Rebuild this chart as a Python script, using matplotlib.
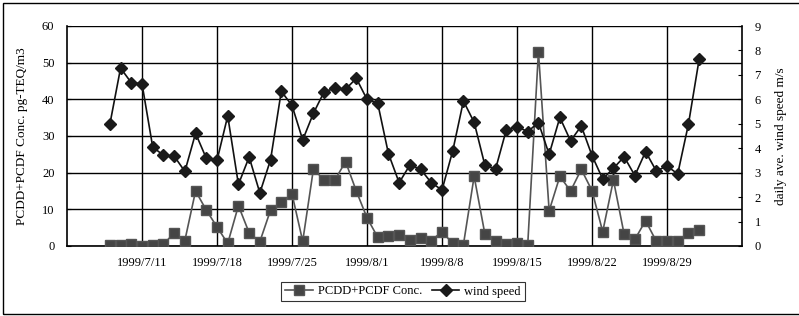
import matplotlib
matplotlib.use("Agg")
import matplotlib.pyplot as plt
from matplotlib.patches import Rectangle
import pandas as pd

dates = pd.date_range("1999-07-08", "1999-09-01", freq="D")
conc = [0.3, 0.3, 0.5, 0.1, 0.3, 0.5, 3.5, 1.5, 15, 9.8, 5.2, 0.7, 11, 3.6, 1.2, 9.8,
        12, 14.2, 1.3, 21, 18, 18, 23, 15, 7.7, 2.4, 2.7, 2.9, 1.6, 2.2, 1.5, 3.9,
        0.7, 0.4, 19, 3.3, 1.3, 0.5, 0.7, 0.3, 53, 9.6, 19, 15, 20.9, 15.1, 3.9, 18,
        3.2, 1.8, 6.9, 1.3, 1.3, 1.3, 3.5, 4.4]
wind = [4.98, 7.28, 6.68, 6.64, 4.05, 3.71, 3.68, 3.05, 4.61, 3.59, 3.50, 5.32, 2.52,
        3.64, 2.17, 3.53, 6.33, 5.75, 4.34, 5.43, 6.31, 6.45, 6.41, 6.86, 6.0, 5.84,
        3.78, 2.59, 3.31, 3.14, 2.59, 2.29, 3.89, 5.93, 5.06, 3.31, 3.15, 4.75, 4.88,
        4.68, 5.05, 3.75, 5.26, 4.30, 4.91, 3.70, 2.74, 3.18, 3.65, 2.88, 3.86, 3.07,
        3.27, 2.95, 4.98, 7.64]
tick_dates = ["1999-07-11", "1999-07-18", "1999-07-25", "1999-08-01",
              "1999-08-08", "1999-08-15", "1999-08-22", "1999-08-29"]
tick_labels = ["1999/7/11", "1999/7/18", "1999/7/25", "1999/8/1",
               "1999/8/8", "1999/8/15", "1999/8/22", "1999/8/29"]
left_label = "PCDD+PCDF Conc. pg-TEQ/m3"
right_label = "daily ave. wind speed m/s"
series_names = ["PCDD+PCDF Conc.", "wind speed"]

plt.rcParams['font.family'] = ['Liberation Serif', 'DejaVu Serif']
plt.rcParams['font.size'] = 9

fig = plt.figure(figsize=(7.99, 3.16), dpi=100)
fig.patches.append(Rectangle((3/799, 2/316), 900/799, 311/316, transform=fig.transFigure,
                             fill=False, edgecolor='black', linewidth=1.0))
ax = fig.add_axes([67/799, 1-246/316, 675/799, 220/316])
ax2 = ax.twinx()

l1, = ax.plot(dates, conc, color='#555555', marker='s', markersize=7,
              markerfacecolor='#454545', markeredgecolor='#555555', linewidth=1.2,
              label=series_names[0], zorder=3)
l2, = ax2.plot(dates, wind, color='#111111', marker='D', markersize=6,
               markerfacecolor='#1a1a1a', markeredgecolor='#1a1a1a', linewidth=1.2,
               label=series_names[1], zorder=3)

ax.set_xlim(pd.Timestamp("1999-07-04"), pd.Timestamp("1999-09-05"))
ax.set_ylim(0, 60)
ax.set_yticks(range(0, 61, 10))
ax2.set_ylim(0, 9)
ax2.set_yticks(range(0, 10))
ax.set_xticks(pd.to_datetime(tick_dates))
ax.set_xticklabels(tick_labels)
ax.tick_params(axis='x', length=0, pad=8)
ax.tick_params(axis='y', length=3, direction='in', pad=9)
ax2.tick_params(axis='y', length=3, direction='in', pad=9)
ax.grid(True, color='black', linewidth=1.0)
ax.set_axisbelow(True)
ax.spines['top'].set_visible(False)
ax2.spines['top'].set_visible(False)
ax.spines['right'].set_visible(False)
ax2.spines['left'].set_visible(False)
ax2.spines['bottom'].set_visible(False)
for sp in [ax.spines['left'], ax.spines['bottom'], ax2.spines['right']]:
    sp.set_linewidth(1.2)

ax.set_ylabel(left_label, fontsize=9.5, labelpad=10)
ax2.set_ylabel(right_label, fontsize=9.5, labelpad=10)

leg = fig.legend([l1, l2], series_names, loc='center', bbox_to_anchor=(403/799, 1-291.5/316),
                 ncol=2, frameon=True, fancybox=False, edgecolor='black', fontsize=9,
                 handlelength=2.2, columnspacing=0.8, borderpad=0.3, handletextpad=0.4)
leg.get_frame().set_linewidth(0.8)

fig.savefig("out.png", dpi=100)
